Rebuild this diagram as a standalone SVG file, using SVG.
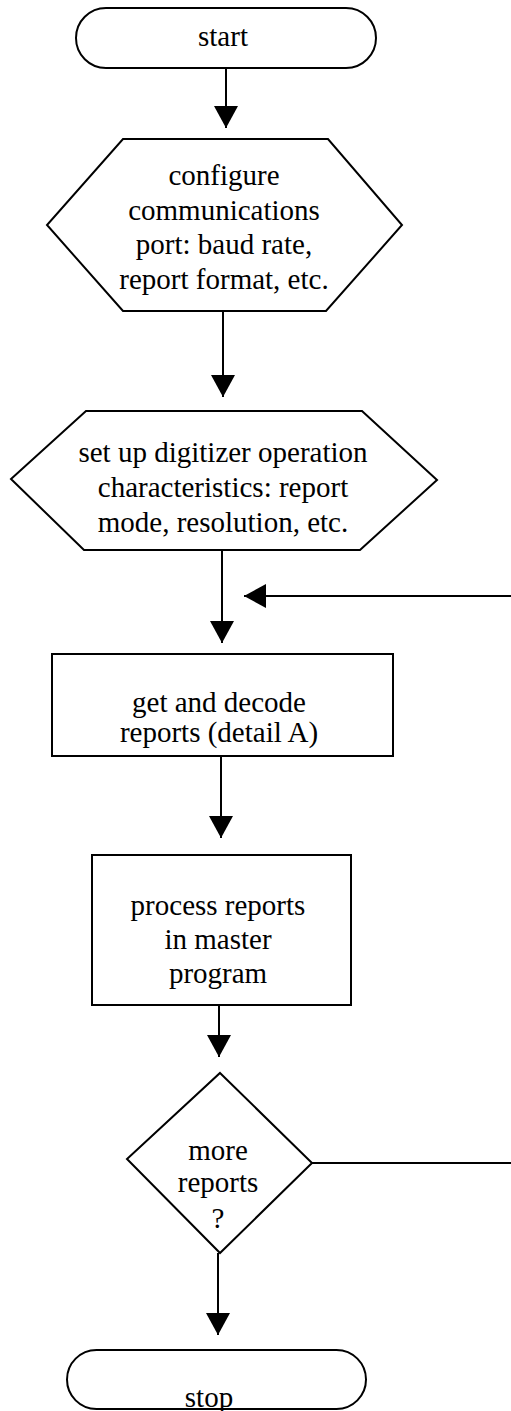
<svg xmlns="http://www.w3.org/2000/svg" width="511" height="1411" viewBox="0 0 511 1411">
<style>
.s{fill:#fff;stroke:#000;stroke-width:2}
.c{fill:none;stroke:#000;stroke-width:2}
text{font-family:"Liberation Serif","Times New Roman",serif;font-size:29px;fill:#000;text-anchor:middle}
</style>
<defs>
<marker id="ah" markerUnits="userSpaceOnUse" viewBox="0 0 22 24" refX="22" refY="12" markerWidth="22" markerHeight="24" orient="auto">
<path d="M0,0 L22,12 L0,24 z" fill="#000"/>
</marker>
</defs>
<rect width="511" height="1411" fill="#fff"/>
<g id="connectors">
<line class="c" x1="226" y1="68" x2="226" y2="128" marker-end="url(#ah)"/>
<line class="c" x1="223" y1="311" x2="223" y2="397" marker-end="url(#ah)"/>
<line class="c" x1="222" y1="550" x2="222" y2="643" marker-end="url(#ah)"/>
<line class="c" x1="511" y1="596" x2="244" y2="596" marker-end="url(#ah)"/>
<line class="c" x1="221" y1="756" x2="221" y2="838" marker-end="url(#ah)"/>
<line class="c" x1="219" y1="1005" x2="219" y2="1057" marker-end="url(#ah)"/>
<line class="c" x1="312" y1="1163" x2="511" y2="1163"/>
<line class="c" x1="218" y1="1253" x2="218" y2="1335" marker-end="url(#ah)"/>
</g>
<g id="start">
<rect class="s" x="76" y="8" width="300" height="60" rx="30" ry="30"/>
<text x="223" y="46">start</text>
</g>
<g id="configure">
<polygon class="s" points="123,139 328,139 402,225 326,311 123,311 47,225"/>
<text x="224" y="185">configure</text>
<text x="224" y="219.5">communications</text>
<text x="224" y="254">port: baud rate,</text>
<text x="224" y="288.5">report format, etc.</text>
</g>
<g id="setup">
<polygon class="s" points="86,411 362,411 437,480 360,550 84,550 11,479"/>
<text x="223" y="462">set up digitizer operation</text>
<text x="223" y="497">characteristics: report</text>
<text x="223" y="532">mode, resolution, etc.</text>
</g>
<g id="decode">
<rect class="s" x="52" y="654" width="341" height="102"/>
<text x="219" y="712">get and decode</text>
<text x="219" y="742">reports (detail A)</text>
</g>
<g id="process">
<rect class="s" x="92" y="855" width="259" height="150"/>
<text x="218" y="915">process reports</text>
<text x="218" y="949">in master</text>
<text x="218" y="983">program</text>
</g>
<g id="more">
<polygon class="s" points="220,1073 312,1163 220,1253 127,1159"/>
<text x="218" y="1160">more</text>
<text x="218" y="1192">reports</text>
<text x="218" y="1228">?</text>
</g>
<g id="stop">
<rect class="s" x="67" y="1350" width="299" height="59" rx="29.5" ry="29.5"/>
<text x="209" y="1407">stop</text>
</g>
</svg>
